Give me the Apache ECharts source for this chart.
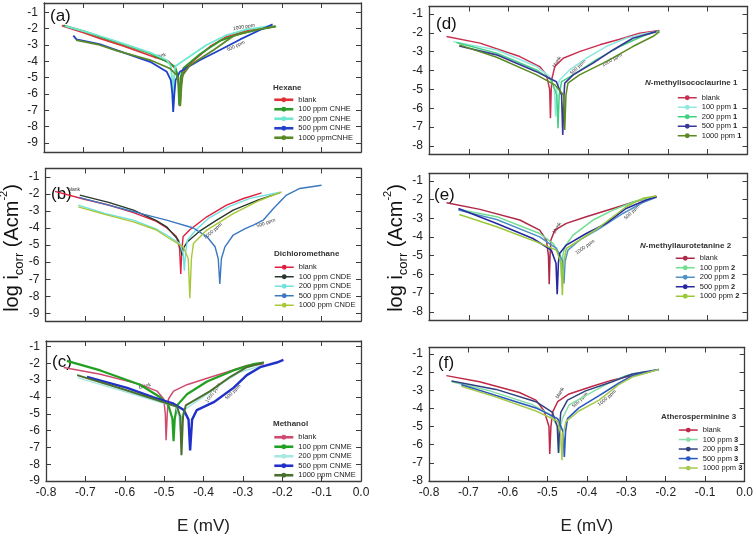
<!DOCTYPE html>
<html><head><meta charset="utf-8">
<script src="https://cdn.jsdelivr.net/npm/echarts@6/dist/echarts.min.js"></script>
<style>html,body{margin:0;padding:0;background:#fff}#c{width:756px;height:536px}</style>
</head><body><div id="c"></div><script>
// ---------- DATA (E in V, log i) ----------
const yTicksLeft = [-9,-8,-7,-6,-5,-4,-3,-2,-1];
const yTicksRight = [-8,-7,-6,-5,-4,-3,-2,-1];

const legendA = ['blank','100 ppm CNHE','200 ppm CNHE','500 ppm CNHE','1000 ppmCNHE'];
const legendB = ['blank','100 ppm CNDE','200 ppm CNDE','500 ppm CNDE','1000 ppm CNDE'];
const legendC = ['blank','100 ppm CNME','200 ppm CNME','500 ppm CNME','1000 ppm CNME'];
const legendD = ['blank','100 ppm 1','200 ppm 1','500 ppm 1','1000 ppm 1'];
const legendE = ['blank','100 ppm 2','200 ppm 2','500 ppm 2','1000 ppm 2'];
const legendF = ['blank','100 ppm 3','200 ppm 3','500 ppm 3','1000 ppm 3'];

// (a) Hexane
const a_blank = [[-0.755,-1.82],[-0.70,-2.25],[-0.659,-2.6],[-0.60,-3.05],[-0.524,-3.72],[-0.486,-4.0],[-0.47,-4.4],[-0.461,-5.0],[-0.457,-6.75],[-0.453,-5.1],[-0.444,-4.45],[-0.423,-3.95],[-0.381,-3.1],[-0.339,-2.5],[-0.288,-2.12],[-0.246,-1.98],[-0.217,-1.88]];
const a_100 = [[-0.751,-1.8],[-0.70,-2.15],[-0.659,-2.49],[-0.60,-2.95],[-0.532,-3.52],[-0.49,-4.03],[-0.469,-4.33],[-0.462,-4.9],[-0.459,-6.7],[-0.455,-4.95],[-0.448,-4.4],[-0.406,-3.55],[-0.356,-2.75],[-0.305,-2.3],[-0.255,-2.05],[-0.214,-1.86]];
const a_200 = [[-0.747,-1.84],[-0.70,-2.15],[-0.659,-2.45],[-0.60,-2.92],[-0.532,-3.47],[-0.49,-3.92],[-0.48,-4.3],[-0.477,-5.0],[-0.475,-6.58],[-0.472,-5.0],[-0.469,-4.3],[-0.44,-3.82],[-0.39,-3.0],[-0.339,-2.39],[-0.288,-2.04],[-0.229,-1.84]];
const a_500 = [[-0.726,-2.43],[-0.718,-2.66],[-0.66,-2.95],[-0.617,-3.31],[-0.532,-4.03],[-0.49,-4.64],[-0.48,-5.15],[-0.476,-6.0],[-0.474,-7.1],[-0.471,-6.0],[-0.468,-5.15],[-0.457,-4.64],[-0.406,-3.92],[-0.356,-3.31],[-0.305,-2.66],[-0.255,-2.08],[-0.223,-1.74]];
const a_1000 = [[-0.719,-2.7],[-0.66,-3.0],[-0.617,-3.35],[-0.532,-3.92],[-0.482,-4.44],[-0.465,-4.85],[-0.459,-5.5],[-0.456,-6.72],[-0.453,-5.5],[-0.45,-4.85],[-0.431,-4.23],[-0.372,-3.31],[-0.322,-2.45],[-0.272,-2.12],[-0.217,-1.84]];

// (b) Dichloromethane
const b_blank = [[-0.776,-1.85],[-0.704,-2.3],[-0.64,-2.65],[-0.577,-3.1],[-0.52,-3.6],[-0.493,-3.98],[-0.468,-4.5],[-0.46,-5.2],[-0.457,-6.7],[-0.454,-5.2],[-0.451,-4.5],[-0.434,-4.1],[-0.391,-3.34],[-0.341,-2.66],[-0.298,-2.27],[-0.252,-1.94]];
const b_100 = [[-0.713,-2.07],[-0.64,-2.5],[-0.577,-2.95],[-0.52,-3.55],[-0.493,-3.93],[-0.463,-4.71],[-0.457,-5.2],[-0.454,-5.6],[-0.451,-5.2],[-0.44,-4.8],[-0.41,-4.2],[-0.37,-3.6],[-0.324,-2.95],[-0.26,-2.35],[-0.205,-1.92]];
const b_200 = [[-0.717,-2.66],[-0.65,-3.15],[-0.577,-3.54],[-0.52,-4.05],[-0.493,-4.41],[-0.46,-4.9],[-0.451,-5.5],[-0.448,-6.5],[-0.445,-5.5],[-0.44,-4.7],[-0.42,-4.15],[-0.385,-3.4],[-0.335,-2.75],[-0.28,-2.25],[-0.205,-1.9]];
const b_500 = [[-0.715,-2.2],[-0.65,-2.6],[-0.6,-2.9],[-0.55,-3.2],[-0.493,-3.54],[-0.425,-4.0],[-0.391,-4.5],[-0.37,-5.1],[-0.362,-5.8],[-0.358,-7.28],[-0.354,-5.8],[-0.345,-5.1],[-0.324,-4.41],[-0.295,-4.05],[-0.273,-3.83],[-0.248,-3.54],[-0.222,-2.85],[-0.189,-2.07],[-0.155,-1.68],[-0.1,-1.49]];
const b_1000 = [[-0.717,-2.76],[-0.65,-3.2],[-0.577,-3.64],[-0.52,-4.1],[-0.493,-4.51],[-0.451,-5.1],[-0.438,-5.8],[-0.434,-8.12],[-0.43,-5.8],[-0.425,-4.9],[-0.391,-4.12],[-0.324,-3.15],[-0.256,-2.37],[-0.201,-1.88]];

// (c) Methanol
const c_blank = [[-0.755,-2.25],[-0.662,-2.65],[-0.561,-3.25],[-0.518,-3.65],[-0.501,-4.12],[-0.497,-5.0],[-0.495,-6.58],[-0.492,-5.0],[-0.489,-4.12],[-0.476,-3.65],[-0.442,-3.27],[-0.391,-2.89],[-0.34,-2.51],[-0.29,-2.13],[-0.247,-2.05]];
const c_100 = [[-0.747,-1.85],[-0.662,-2.42],[-0.561,-3.27],[-0.51,-4.02],[-0.489,-4.5],[-0.479,-5.3],[-0.476,-6.63],[-0.473,-5.3],[-0.467,-4.5],[-0.442,-3.84],[-0.391,-3.08],[-0.324,-2.42],[-0.273,-2.04],[-0.247,-1.95]];
const c_200 = [[-0.72,-2.85],[-0.62,-3.55],[-0.51,-4.31],[-0.47,-4.55],[-0.462,-5.2],[-0.459,-6.0],[-0.456,-5.2],[-0.45,-4.78],[-0.408,-4.12],[-0.358,-3.27],[-0.307,-2.51],[-0.247,-2.1]];
const c_500 = [[-0.696,-2.8],[-0.594,-3.46],[-0.527,-4.02],[-0.476,-4.4],[-0.45,-4.78],[-0.438,-5.35],[-0.434,-7.18],[-0.429,-5.35],[-0.417,-4.78],[-0.374,-4.31],[-0.324,-3.46],[-0.29,-2.7],[-0.256,-2.23],[-0.214,-1.95],[-0.197,-1.8]];
const c_1000 = [[-0.721,-2.7],[-0.62,-3.42],[-0.518,-4.18],[-0.467,-4.59],[-0.459,-5.16],[-0.456,-7.47],[-0.452,-5.16],[-0.445,-4.5],[-0.383,-3.65],[-0.332,-2.8],[-0.29,-2.23],[-0.247,-1.95]];

// (d) N-methylisococlaurine 1
const d_blank = [[-0.756,-2.2],[-0.672,-2.55],[-0.572,-3.26],[-0.522,-3.79],[-0.505,-4.23],[-0.497,-5.0],[-0.495,-6.53],[-0.493,-5.0],[-0.491,-4.41],[-0.484,-3.79],[-0.463,-3.35],[-0.422,-3.0],[-0.371,-2.64],[-0.321,-2.34],[-0.271,-2.02],[-0.221,-1.88]];
const d_100 = [[-0.739,-2.47],[-0.63,-2.91],[-0.53,-3.79],[-0.497,-4.32],[-0.485,-5.0],[-0.482,-6.44],[-0.479,-5.0],[-0.472,-4.5],[-0.447,-3.97],[-0.405,-3.35],[-0.355,-2.73],[-0.305,-2.29],[-0.254,-2.02],[-0.225,-1.94]];
const d_200 = [[-0.731,-2.52],[-0.63,-3.08],[-0.53,-3.97],[-0.493,-4.5],[-0.479,-5.3],[-0.476,-7.06],[-0.473,-5.3],[-0.467,-4.59],[-0.438,-4.23],[-0.38,-3.44],[-0.321,-2.73],[-0.263,-2.17],[-0.223,-1.9]];
const d_500 = [[-0.724,-2.7],[-0.63,-3.17],[-0.53,-4.06],[-0.48,-4.59],[-0.467,-5.3],[-0.464,-7.41],[-0.461,-5.3],[-0.459,-4.67],[-0.438,-4.23],[-0.388,-3.61],[-0.338,-2.91],[-0.288,-2.29],[-0.229,-1.94]];
const d_1000 = [[-0.724,-2.64],[-0.63,-3.3],[-0.53,-4.23],[-0.484,-4.76],[-0.462,-5.3],[-0.459,-7.15],[-0.456,-5.3],[-0.451,-4.67],[-0.422,-4.23],[-0.355,-3.53],[-0.288,-2.73],[-0.238,-2.2],[-0.221,-1.94]];

// (e) N-methyllaurotetanine 2
const e_blank = [[-0.756,-2.16],[-0.672,-2.52],[-0.572,-3.09],[-0.522,-3.63],[-0.505,-4.17],[-0.5,-5.0],[-0.498,-6.53],[-0.496,-5.0],[-0.494,-4.17],[-0.484,-3.63],[-0.455,-3.27],[-0.405,-2.91],[-0.338,-2.47],[-0.288,-2.14],[-0.229,-1.8]];
const e_100 = [[-0.726,-2.52],[-0.63,-2.91],[-0.522,-3.81],[-0.488,-4.35],[-0.47,-5.0],[-0.467,-6.2],[-0.464,-5.0],[-0.459,-4.52],[-0.438,-3.9],[-0.388,-3.09],[-0.338,-2.56],[-0.279,-2.06],[-0.229,-1.84]];
const e_200 = [[-0.726,-2.56],[-0.63,-3.06],[-0.522,-3.99],[-0.48,-4.61],[-0.464,-5.3],[-0.461,-6.49],[-0.458,-5.3],[-0.451,-4.7],[-0.422,-4.17],[-0.371,-3.54],[-0.313,-2.74],[-0.263,-2.16],[-0.229,-1.88]];
const e_500 = [[-0.726,-2.47],[-0.63,-3.27],[-0.539,-4.08],[-0.493,-4.7],[-0.481,-5.4],[-0.478,-7.06],[-0.475,-5.4],[-0.472,-4.88],[-0.455,-4.43],[-0.405,-3.81],[-0.355,-3.27],[-0.305,-2.47],[-0.254,-2.02],[-0.228,-1.84]];
const e_1000 = [[-0.724,-2.79],[-0.63,-3.45],[-0.53,-4.26],[-0.48,-4.7],[-0.468,-5.4],[-0.465,-7.12],[-0.462,-5.4],[-0.455,-4.61],[-0.422,-4.17],[-0.371,-3.45],[-0.305,-2.38],[-0.263,-1.93],[-0.229,-1.8]];

// (f) Atherosperminine 3
const f_blank = [[-0.756,-2.19],[-0.672,-2.53],[-0.571,-3.12],[-0.529,-3.54],[-0.508,-4.14],[-0.496,-5.0],[-0.494,-6.51],[-0.491,-5.0],[-0.487,-4.22],[-0.474,-3.63],[-0.445,-3.2],[-0.386,-2.78],[-0.336,-2.44],[-0.302,-2.27],[-0.252,-2.05],[-0.239,-1.98]];
const f_100 = [[-0.743,-2.53],[-0.646,-3.03],[-0.537,-3.8],[-0.495,-4.31],[-0.473,-5.0],[-0.47,-6.42],[-0.467,-5.0],[-0.462,-4.56],[-0.445,-3.8],[-0.403,-3.29],[-0.352,-2.69],[-0.302,-2.19],[-0.252,-1.98]];
const f_200 = [[-0.743,-2.49],[-0.63,-2.95],[-0.529,-3.63],[-0.487,-4.22],[-0.475,-5.0],[-0.472,-6.45],[-0.469,-5.0],[-0.466,-4.22],[-0.449,-3.54],[-0.403,-3.03],[-0.336,-2.53],[-0.285,-2.1],[-0.218,-1.85]];
const f_500 = [[-0.718,-2.69],[-0.63,-3.29],[-0.529,-3.97],[-0.474,-4.56],[-0.46,-5.3],[-0.457,-6.68],[-0.454,-5.3],[-0.449,-4.56],[-0.42,-3.97],[-0.369,-3.29],[-0.319,-2.61],[-0.285,-2.19],[-0.218,-1.85]];
const f_1000 = [[-0.718,-2.78],[-0.63,-3.37],[-0.529,-4.14],[-0.474,-4.69],[-0.466,-5.4],[-0.463,-6.85],[-0.46,-5.4],[-0.453,-4.73],[-0.42,-4.14],[-0.369,-3.54],[-0.319,-2.69],[-0.285,-2.27],[-0.218,-1.85]];

// ---------- LAYOUT / STYLE ----------
const FONT = '"Liberation Sans", Arial, Helvetica, sans-serif';
const AX = '#3c3c3c';
const panels = [
 {id:'a', tag:'(a)', tagPos:[50,16], grid:{left:44,top:3,width:317,height:149}, yr:[-9.55,-0.43], yt:yTicksLeft, bottom:false,
  title:'{b|Hexane}', titlePos:[273,88], legPos:[273,95], labels:legendA, sym:false,
  colors:['#e0303a','#2a9a2a','#70e8d0','#2040c8','#5a8a28'], w:[1.8,1.8,1.8,1.8,1.8], data:[a_blank,a_100,a_200,a_500,a_1000],
  notes:[['blank',160,56,12],['1000 ppm',244,27,10],['500 ppm',236,46,25]]},
 {id:'b', tag:'(b)', tagPos:[51,194], grid:{left:45.5,top:168.5,width:315.5,height:152.5}, yr:[-9.45,-0.51], yt:yTicksLeft, bottom:false,
  title:'{b|Dichloromethane}', titlePos:[274,254], legPos:[274,262.5], labels:legendB, sym:true,
  colors:['#e02040','#28382c','#70e0e0','#3a78c0','#a8c838'], w:[1.4,1.4,1.4,1.4,1.4], data:[b_blank,b_100,b_200,b_500,b_1000],
  notes:[['blank',74,190,0],['1000 ppm',213,231,40],['500 ppm',266,223,20]]},
 {id:'c', tag:'(c)', tagPos:[52,362], grid:{left:46,top:341,width:315,height:146}, yr:[-9,-0.67], yt:yTicksLeft, bottom:true,
  title:'{b|Methanol}', titlePos:[273,424], legPos:[273,432.5], labels:legendC, sym:false,
  colors:['#d04a70','#22a022','#a8e8e0','#2030c8','#4a7030'], w:[1.5,2.2,1.5,2.4,2], data:[c_blank,c_100,c_200,c_500,c_1000],
  notes:[['blank',145,386,15],['1000 ppm',213,393,55],['500 ppm',233,392,45]]},
 {id:'d', tag:'(d)', tagPos:[436,24], grid:{left:429,top:6.5,width:318.5,height:147.5}, yr:[-8.42,-0.61], yt:yTicksRight, bottom:false,
  title:'{i|N}{b|-methylisococlaurine 1}', titlePos:[645,83], legPos:[677,93], labels:legendD, sym:true,
  colors:['#c83050','#90e8e0','#40d080','#383898','#5a8a20'], w:[1.5,1.5,1.5,1.6,1.5], data:[d_blank,d_100,d_200,d_500,d_1000],
  notes:[['blank',557,62,60],['500 ppm',578,67,45],['1000 ppm',612,60,30]]},
 {id:'e', tag:'(e)', tagPos:[434,195], grid:{left:429,top:173.5,width:318.5,height:146.5}, yr:[-8.44,-0.60], yt:yTicksRight, bottom:false,
  title:'{i|N}{b|-methyllaurotetanine 2}', titlePos:[640,246], legPos:[675,253.5], labels:legendE, sym:true,
  colors:['#b02848','#70e090','#5090c8','#2828a0','#98c838'], w:[1.5,1.5,1.5,1.6,1.5], data:[e_blank,e_100,e_200,e_500,e_1000],
  notes:[['blank',557,228,60],['500 ppm',632,212,45],['1000 ppm',585,247,35]]},
 {id:'f', tag:'(f)', tagPos:[438,363], grid:{left:429,top:347.5,width:318.5,height:136.5}, yr:[-8,-0.64], yt:yTicksRight, bottom:true,
  title:'{b|Atherosperminine 3}', titlePos:[661,417], legPos:[678,425.3], labels:legendF, sym:true,
  colors:['#c02848','#88e0a8','#304080','#2858c0','#a8c850'], w:[1.5,1.5,1.5,1.6,1.5], data:[f_blank,f_100,f_200,f_500,f_1000],
  notes:[['blank',560,393,60],['500 ppm',580,400,45],['1000 ppm',607,398,40]]}
];

const grid = [], xAxis = [], yAxis = [], series = [], legend = [], elements = [];
function fmtX(v){ if (Math.abs(v) < 1e-9) v = 0; return v.toFixed(1); }
panels.forEach((p, i) => {
  grid.push(Object.assign({containLabel:false}, p.grid));
  ['bottom','top'].forEach(pos => {
    const lab = pos === 'bottom' && p.bottom;
    xAxis.push({gridIndex:i, type:'value', position:pos, min:-0.8, max:0, interval:0.1,
      axisLine:{show:true, onZero:false, lineStyle:{color:AX, width:1.3}},
      axisTick:{show:true, inside:true, length:5, lineStyle:{color:AX, width:1}},
      axisLabel:{show:lab, margin:6, fontSize:12, color:'#222', fontFamily:FONT, formatter:fmtX},
      splitLine:{show:false},
      name: lab ? 'E (mV)' : '', nameLocation:'middle', nameGap:37,
      nameTextStyle:{fontSize:17, color:'#222', fontFamily:FONT}});
  });
  ['left','right'].forEach(pos => {
    yAxis.push({gridIndex:i, type:'value', position:pos, min:p.yr[0], max:p.yr[1],
      axisLine:{show:true, onZero:false, lineStyle:{color:AX, width:1.3}},
      axisTick:{show:true, inside:true, length:5, customValues:p.yt, lineStyle:{color:AX, width:1}},
      axisLabel:{show:pos==='left', margin:6, fontSize:12, color:'#222', fontFamily:FONT, customValues:p.yt, formatter:v=>String(Math.round(v))},
      splitLine:{show:false}});
  });
  const names = [];
  p.data.forEach((d, k) => {
    const nm = p.id + ':' + p.labels[k];
    names.push(nm);
    series.push({type:'line', name:nm, xAxisIndex:2*i, yAxisIndex:2*i, data:d,
      showSymbol:false, symbol: p.sym ? 'circle' : 'none', symbolSize:3,
      lineStyle:{width:p.w[k], color:p.colors[k]}, itemStyle:{color:p.colors[k]},
      animation:false, silent:true});
  });
  legend.push({data:names, orient:'vertical', left:p.legPos[0], top:p.legPos[1], itemGap:0, padding:0,
    itemWidth:19, itemHeight:6, selectedMode:false,
    lineStyle:{width: p.sym ? 1.5 : 2.6},
    textStyle:{fontSize:7.5, lineHeight:9.5, color:'#222', fontFamily:FONT, rich:{b:{fontSize:7.5, fontWeight:'bold', fontFamily:FONT, color:'#222'}}},
    formatter: n => { const t = n.slice(2); return /ppm [123]$/.test(t) ? t.replace(/([123])$/, '{b|$1}') : t; }});
  // panel letter
  elements.push({type:'text', x:p.tagPos[0], y:p.tagPos[1], silent:true,
    style:{text:p.tag, fontSize:17, fontFamily:FONT, fill:'#111', align:'left', verticalAlign:'middle', textAlign:'left', textVerticalAlign:'middle'}});
  // legend title
  elements.push({type:'text', x:p.titlePos[0], y:p.titlePos[1], silent:true,
    style:{text:p.title, fill:'#333', align:'left', verticalAlign:'middle', textAlign:'left', textVerticalAlign:'middle',
      rich:{b:{fontSize:8, fontWeight:'bold', fontFamily:FONT, fill:'#333', color:'#333'},
            i:{fontSize:8, fontWeight:'bold', fontStyle:'italic', fontFamily:FONT, fill:'#333', color:'#333'}}}});
  // tiny curve annotations
  p.notes.forEach(n => {
    elements.push({type:'text', x:n[1], y:n[2], rotation:n[3]*Math.PI/180, silent:true,
      style:{text:n[0], fontSize:5, fontFamily:FONT, fill:'#333', align:'center', verticalAlign:'middle', textAlign:'center', textVerticalAlign:'middle'}});
  });
});

// y-axis titles
const yTitleRich = {
  m:{fontSize:20, fontFamily:FONT, fill:'#111', color:'#111', lineHeight:27},
  s:{fontSize:13, fontFamily:FONT, fill:'#111', color:'#111', lineHeight:13, verticalAlign:'bottom'},
  p:{fontSize:11, fontFamily:FONT, fill:'#111', color:'#111', lineHeight:11, verticalAlign:'top'}
};
[[12,248],[396,248]].forEach(pt => {
  elements.push({type:'text', x:pt[0], y:pt[1], rotation:Math.PI/2, silent:true,
    style:{text:'{m|log i}{s|corr}{m| (Acm}{p|-2}{m|)}', rich:yTitleRich, align:'center', verticalAlign:'middle', textAlign:'center', textVerticalAlign:'middle'}});
});

const chart = echarts.init(document.getElementById('c'), null, {renderer:'canvas'});
chart.setOption({backgroundColor:'#fff', animation:false, grid, xAxis, yAxis, series, legend, graphic:{elements}});
</script></body></html>
